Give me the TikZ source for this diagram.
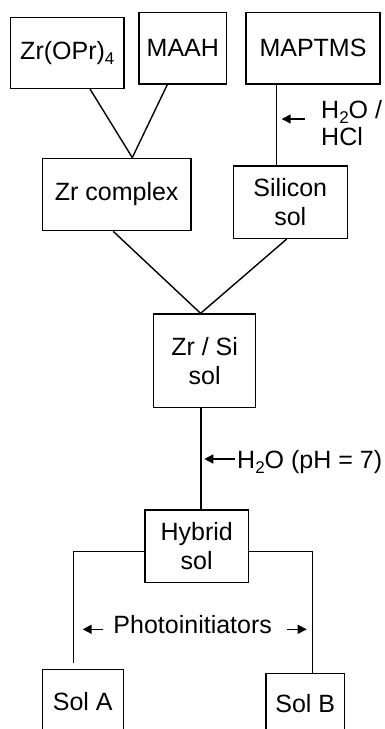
\documentclass[tikz,border=0pt]{standalone}
\usepackage{fontspec}
\setmainfont{Liberation Sans}
\usetikzlibrary{arrows.meta,calc}
\newcommand\mysub[1]{\raisebox{-5pt}{\fontsize{17}{17}\selectfont #1}}
\begin{document}
\begin{tikzpicture}[x=1pt,y=-1pt,
  box/.style={draw, line width=1.4pt, inner sep=0pt, align=center, font=\fontsize{25}{29}\selectfont},
  conn/.style={line width=1.4pt},
  lab/.style={font=\fontsize{25}{25}\selectfont, inner sep=0pt, align=left},
  addarrow/.style={line width=1.5pt, -{Triangle[length=9pt,width=9pt]}}]
\clip (0,0) rectangle (385,729);
% boxes
\node[box, minimum width=113.3pt, minimum height=71pt] (zr) at (67.3,52.8) {Zr(OPr)\mysub{4}};
\node[box, minimum width=87.7pt, minimum height=71.3pt] (maah) at (182.8,48.3) {MAAH};
\node[box, minimum width=134pt, minimum height=71.3pt] (maptms) at (313,48.3) {MAPTMS};
\node[box, minimum width=148.7pt, minimum height=72.4pt] (zrc) at (116.7,194.5) {Zr complex};
\node[box, minimum width=114pt, minimum height=72.3pt] (sis) at (290.3,202.2) {Silicon\\sol};
\node[box, minimum width=101.8pt, minimum height=93.3pt] (zrsi) at (204.6,360.7) {Zr / Si\\sol};
\node[box, minimum width=103.3pt, minimum height=72.3pt] (hyb) at (196.7,546.2) {Hybrid\\sol};
\node[box, minimum width=81pt, minimum height=64pt] (sola) at (82.8,701.3) {Sol A};
\node[box, minimum width=78.3pt, minimum height=61pt] (solb) at (305.2,704) {Sol B};
% connectors
\draw[conn] ([xshift=22.7pt]zr.south) -- ([xshift=15.6pt]zrc.north);
\draw[conn] ([xshift=-15.5pt]maah.south) -- ([xshift=15.6pt]zrc.north);
\draw[conn] ([xshift=-36.3pt]maptms.south) -- ([xshift=-36.3pt]maptms.south |- sis.north);
\draw[conn] ([xshift=-3.4pt]zrc.south) -- ([xshift=-4pt]zrsi.north);
\draw[conn] ([xshift=-3.6pt]sis.south) -- ([xshift=-4pt]zrsi.north);
\draw[conn] ([xshift=-3.6pt]zrsi.south) -- ([xshift=-3.6pt]zrsi.south |- hyb.north);
\draw[conn] ([yshift=-5.5pt]hyb.west) -| ([xshift=-9.5pt,yshift=5.3pt]sola.north);
\draw[conn] ([yshift=-5.5pt]hyb.east) -| ([xshift=7.1pt]solb.north);
% additive arrows
\coordinate (a1t) at (305,119);
\coordinate (a1h) at (281.7,119);
\draw[addarrow] (a1t) -- (a1h);
\node[lab, anchor=west] (hcl) at (321,123) {H\mysub{2}O /\\[2pt]HCl};
\coordinate (a2t) at (235,459);
\coordinate (a2h) at (204.3,459);
\draw[addarrow] (a2t) -- (a2h);
\node[lab, anchor=base west] (ph) at (237,468) {H\mysub{2}O (pH = 7)};
\node[lab, anchor=base] (pi) at (192.7,633.3) {Photoinitiators};
\coordinate (a3t) at (103.3,629.3);
\coordinate (a3h) at (82.7,629.3);
\draw[addarrow] (a3t) -- (a3h);
\coordinate (a4t) at (286.7,629.3);
\coordinate (a4h) at (306.7,629.3);
\draw[addarrow] (a4t) -- (a4h);
\end{tikzpicture}
\end{document}
